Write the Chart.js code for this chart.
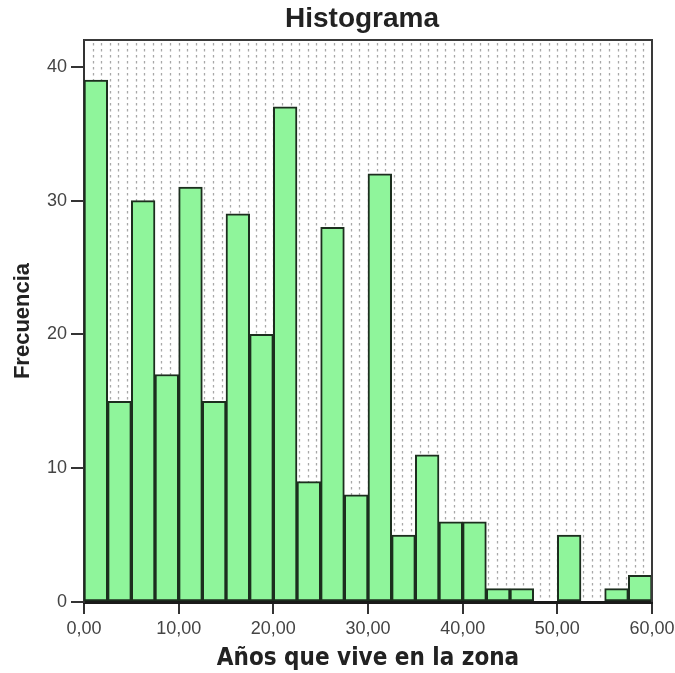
<!DOCTYPE html>
<html>
<head>
<meta charset="utf-8">
<script src="https://cdn.jsdelivr.net/npm/chart.js@4/dist/chart.umd.min.js"></script>
<style>
  html, body { margin: 0; padding: 0; background: #ffffff; }
  #wrap { width: 675px; height: 673px; position: relative; }
</style>
</head>
<body>
<div id="wrap"><canvas id="c" width="675" height="673"></canvas></div>
<script>
// Histogram bins: lower edges (width 2.5) and frequencies
const binStart = [0, 2.5, 5, 7.5, 10, 12.5, 15, 17.5, 20, 22.5, 25, 27.5, 30, 32.5, 35, 37.5, 40, 42.5, 45, 47.5, 50, 52.5, 55, 57.5];
const binWidth = 2.5;
const frecuencias = [39, 15, 30, 17, 31, 15, 29, 20, 37, 9, 28, 8, 32, 5, 11, 6, 6, 1, 1, 0, 5, 0, 1, 2];
const xTickValues = [0, 10, 20, 30, 40, 50, 60];
const yTickValues = [0, 10, 20, 30, 40];

const chartTitle = 'Histograma';
const xTitle = 'Años que vive en la zona';
const yTitle = 'Frecuencia';

const points = binStart.map((s, i) => ({ x: s + binWidth / 2, y: frecuencias[i] }));

const dotBackground = {
  id: 'dotBackground',
  beforeDraw(chart) {
    const { ctx, chartArea: a } = chart;
    ctx.save();
    ctx.fillStyle = '#ffffff';
    ctx.fillRect(a.left, a.top, a.right - a.left, a.bottom - a.top);
    ctx.strokeStyle = '#a8a8a8';
    ctx.lineWidth = 1.3;
    ctx.setLineDash([2.5, 3.5]);
    const n = 66;
    const step = (a.right - a.left) / n;
    for (let i = 1; i < n; i++) {
      const x = Math.round(a.left + i * step) + 0.5;
      ctx.beginPath();
      ctx.moveTo(x, a.top + 3);
      ctx.lineTo(x, a.bottom);
      ctx.stroke();
    }
    ctx.restore();
  },
  afterDraw(chart) {
    const { ctx, chartArea: a } = chart;
    ctx.save();
    ctx.strokeStyle = '#3a3a3a';
    ctx.lineWidth = 2;
    ctx.beginPath();
    ctx.moveTo(a.left, a.top);
    ctx.lineTo(a.right, a.top);
    ctx.lineTo(a.right, a.bottom);
    ctx.stroke();
    // main title, centred over the plot area
    ctx.fillStyle = '#222222';
    ctx.font = "bold 28px 'Liberation Sans', Arial, sans-serif";
    ctx.textAlign = 'center';
    ctx.textBaseline = 'middle';
    ctx.fillText(chartTitle, (a.left + a.right) / 2 - 6, 19);
    ctx.restore();
  }
};

new Chart(document.getElementById('c'), {
  type: 'bar',
  data: {
    datasets: [{
      data: points,
      backgroundColor: 'rgb(143,245,155)',
      borderColor: '#1c2e1e',
      borderWidth: 2,
      barPercentage: 1,
      categoryPercentage: 1,
      borderSkipped: false
    }]
  },
  plugins: [dotBackground],
  options: {
    responsive: false,
    animation: false,
    devicePixelRatio: 1,
    layout: { padding: { left: 0, right: 23, top: 40, bottom: 0 } },
    plugins: {
      legend: { display: false },
      tooltip: { enabled: false },
      title: { display: false }
    },
    scales: {
      x: {
        type: 'linear',
        min: 0,
        max: 60,
        offset: false,
        afterFit(s) { s.height = 71; s.paddingLeft = 0; s.paddingRight = 0; },
        afterBuildTicks(s) { s.ticks = xTickValues.map(v => ({ value: v })); },
        ticks: {
          color: '#444444',
          font: { family: "'Liberation Sans', Arial, sans-serif", size: 18 },
          padding: 4,
          maxRotation: 0,
          callback: v => Number(v).toFixed(2).replace('.', ',')
        },
        grid: { offset: false, drawOnChartArea: false, drawTicks: true, tickLength: 12, color: '#333333', lineWidth: 2 },
        border: { display: true, color: '#1a1a1a', width: 3 },
        title: {
          display: true,
          text: xTitle,
          color: '#222222',
          font: { family: "'DejaVu Sans Condensed', 'DejaVu Sans', sans-serif", size: 24, weight: 'bold', lineHeight: 1.2 },
          padding: { top: 0, bottom: 0 }
        }
      },
      y: {
        type: 'linear',
        min: 0,
        max: 42,
        afterFit(s) { s.width = 84; s.paddingTop = 0; s.paddingBottom = 0; },
        afterBuildTicks(s) { s.ticks = yTickValues.map(v => ({ value: v })); },
        ticks: {
          color: '#444444',
          font: { family: "'Liberation Sans', Arial, sans-serif", size: 18 },
          padding: 4,
          callback: v => String(v)
        },
        grid: { drawOnChartArea: false, drawTicks: true, tickLength: 13, color: '#333333', lineWidth: 2 },
        border: { display: true, color: '#333333', width: 2 },
        title: {
          display: true,
          text: yTitle,
          color: '#222222',
          font: { family: "'Liberation Sans', Arial, sans-serif", size: 22, weight: 'bold', lineHeight: 1.2 },
          padding: { top: 10, bottom: 0 }
        }
      }
    }
  }
});
</script>
</body>
</html>
